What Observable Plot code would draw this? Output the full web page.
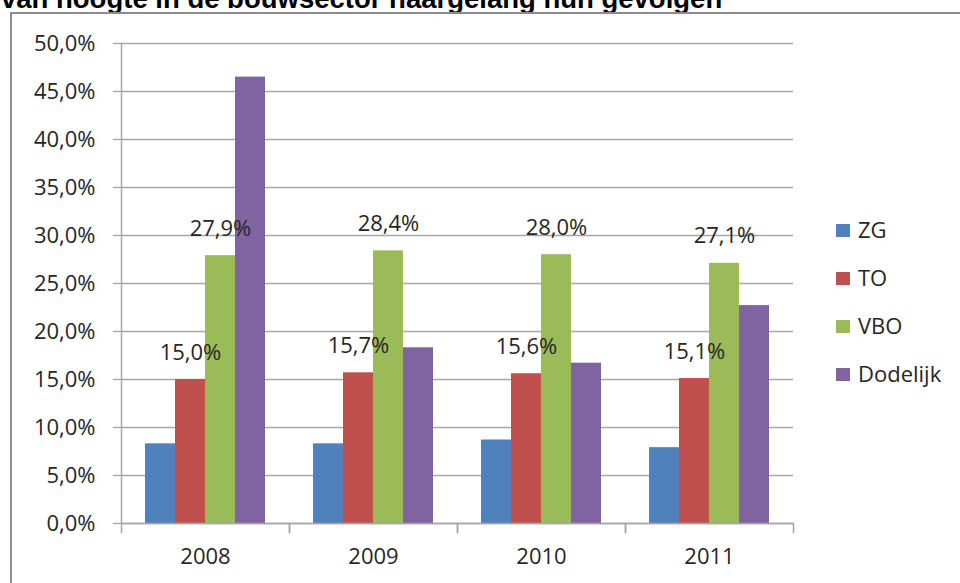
<!DOCTYPE html>
<html><head><meta charset="utf-8">
<script src="https://cdn.jsdelivr.net/npm/d3@7"></script>
<script src="https://cdn.jsdelivr.net/npm/@observablehq/plot@0.6"></script>
<style>
body{margin:0;background:#fff;}
#wrap{position:relative;width:960px;height:583px;overflow:hidden;background:#fff;font-family:"Open Sans",sans-serif;}
#title{position:absolute;left:1px;top:-15px;font:bold 27.5px/27px "Liberation Sans",Arial,sans-serif;white-space:nowrap;color:#000;}
#box{position:absolute;left:10px;top:12px;width:1000px;height:1000px;border:2px solid #8c8c8c;}
#chart{position:absolute;left:0;top:0;}
.lg{position:absolute;left:836px;height:30px;line-height:30px;font-size:22px;color:#262626;white-space:nowrap;}
.lg span.sw{display:inline-block;width:14px;height:13px;margin-right:8px;vertical-align:middle;position:relative;top:-2px;}
</style></head>
<body><div id="wrap">
<div id="title">van hoogte in de bouwsector naargelang hun gevolgen</div>
<div id="box"></div>
<div id="chart"></div>
<div id="legend"></div>
</div>
<script>
const years = ["2008", "2009", "2010", "2011"];
const series = ["ZG", "TO", "VBO", "Dodelijk"];
const ZG = [8.3, 8.3, 8.7, 7.9];
const TO = [15.0, 15.7, 15.6, 15.1];
const VBO = [27.9, 28.4, 28.0, 27.1];
const Dodelijk = [46.5, 18.3, 16.7, 22.7];
const colors = ["#4f81bd", "#c0504d", "#9bbb59", "#8064a2"];
const labeled = ["TO", "VBO"];
const yTicks = [0, 5, 10, 15, 20, 25, 30, 35, 40, 45, 50];

const valuesBySeries = {ZG, TO, VBO, Dodelijk};
const data = [];
years.forEach((year, i) => series.forEach(s => data.push({year, series: s, value: valuesBySeries[s][i]})));
const fmt = v => v.toFixed(1).replace(".", ",") + "%";
const gray = "#a6a6a6";
const ink = "#262626";

const chart = Plot.plot({
  width: 960, height: 583,
  marginLeft: 119, marginRight: 166, marginTop: 43, marginBottom: 60,
  style: {fontFamily: "'Open Sans', sans-serif", fontSize: "22px", color: ink, background: "transparent"},
  fx: {domain: years, padding: 0, label: null},
  x: {domain: series, paddingInner: 0, paddingOuter: 0.76, axis: null},
  y: {domain: [0, 50], label: null},
  color: {domain: series, range: colors},
  marks: [
    Plot.gridY(yTicks, {stroke: gray, strokeOpacity: 1, strokeWidth: 1.3}),
    Plot.barY(data, {fx: "year", x: "series", y: "value", fill: "series"}),
    Plot.text(data.filter(d => labeled.includes(d.series)), {
      fx: "year", x: "series", y: "value", text: d => fmt(d.value),
      dy: -27, fontSize: 22, fill: ink, textAnchor: "middle", lineAnchor: "middle"
    }),
    Plot.ruleY([0], {stroke: gray, strokeWidth: 1.5}),
    Plot.frame({anchor: "left", stroke: gray, strokeWidth: 1.5, insetTop: 480, insetBottom: -9}),
    Plot.frame({anchor: "right", stroke: gray, strokeWidth: 1.5, insetTop: 480, insetBottom: -9}),
    Plot.frame({anchor: "left", stroke: gray, strokeWidth: 1.5, facetAnchor: "left"}),
    Plot.axisY(yTicks, {tickFormat: fmt, tickSize: 8, tickPadding: 18, stroke: gray, strokeWidth: 1.3, fontSize: 22, fill: ink, label: null}),
    Plot.axisFx({anchor: "bottom", tickSize: 0, tickPadding: 33, fontSize: 22, fill: ink, label: null, lineAnchor: "middle"})
  ]
});
document.getElementById("chart").appendChild(chart);

const legend = document.getElementById("legend");
series.forEach((s, i) => {
  const row = document.createElement("div");
  row.className = "lg";
  row.style.top = (229 + 48 * i - 15) + "px";
  const sw = document.createElement("span");
  sw.className = "sw";
  sw.style.background = colors[i];
  row.appendChild(sw);
  row.appendChild(document.createTextNode(s));
  legend.appendChild(row);
});
</script>
</body></html>
